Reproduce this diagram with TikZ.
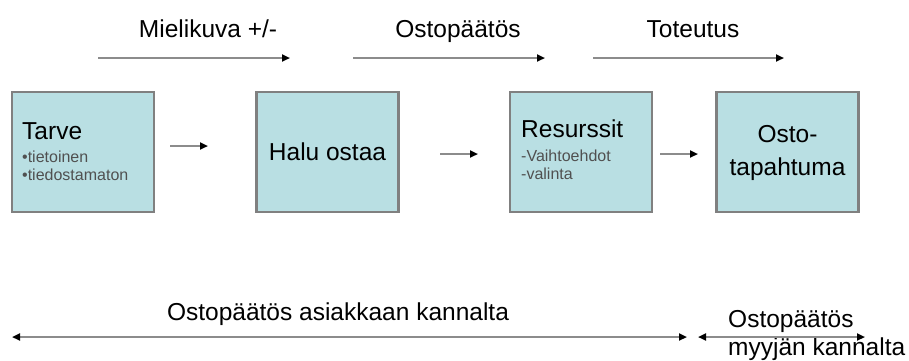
\documentclass[tikz,border=0pt]{standalone}
\usepackage{fontspec}
\setmainfont{Liberation Sans}
\usetikzlibrary{arrows.meta}
\definecolor{boxfill}{HTML}{B9DFE3}
\definecolor{boxline}{HTML}{808080}
\definecolor{linegray}{HTML}{8C8C8C}
\definecolor{subtext}{HTML}{505050}

\begin{document}
\begin{tikzpicture}[x=1pt,y=-1pt,
  stagebox/.style={draw=boxline, line width=2.2pt, fill=boxfill,
    minimum width=142pt, minimum height=120pt, inner sep=0pt},
  conn/.style={draw=linegray, line width=2.3pt, -{Triangle[length=8pt,width=7pt,color=black]}},
  twoway/.style={draw=linegray, line width=2.3pt,
    {Triangle[length=8pt,width=7pt,color=black]}-{Triangle[length=8pt,width=7pt,color=black]}},
  big/.style={font=\fontsize{24.5}{28}\selectfont, inner sep=0pt},
  small/.style={font=\fontsize{16}{18}\selectfont, text=subtext, inner sep=0pt},
]
\useasboundingbox (0,0) rectangle (909,360);

% stage boxes
\node[stagebox] (tarve) at (83,152) {};
\node[stagebox] (halu) at (327.5,152) {};
\node[stagebox] (resurssit) at (581,152) {};
\node[stagebox] (osto) at (787.5,152) {};

% box texts
\node[big, anchor=base west] (tarvet) at (22,139) {Tarve};
\node[small, anchor=base west] (tarve1) at (22,162) {•tietoinen};
\node[small, anchor=base west] (tarve2) at (22,180) {•tiedostamaton};
\node[big] (halut) at (halu.center) {Halu ostaa};
\node[big, anchor=base west] (resurssitt) at (521,137) {Resurssit};
\node[small, anchor=base west] (res1) at (521,161) {-Vaihtoehdot};
\node[small, anchor=base west] (res2) at (521,179) {-valinta};
\node[big, anchor=base] (osto1) at (787.5,142) {Osto-};
\node[big, anchor=base] (osto2) at (787.5,175) {tapahtuma};

% arrows between the boxes
\coordinate (b1s) at (170,146); \coordinate (b1e) at (208,146);
\coordinate (b2s) at (440,154); \coordinate (b2e) at (478,154);
\coordinate (b3s) at (660,154); \coordinate (b3e) at (698,154);
\draw[conn] (b1s) -- (b1e);
\draw[conn] (b2s) -- (b2e);
\draw[conn] (b3s) -- (b3e);

% phase labels and arrows above the boxes
\node[big, anchor=base] (lab1) at (208,37) {Mielikuva +/-};
\node[big, anchor=base] (lab2) at (458,37) {Ostopäätös};
\node[big, anchor=base] (lab3) at (693,37) {Toteutus};
\coordinate (t1s) at (98,58);  \coordinate (t1e) at (290,58);
\coordinate (t2s) at (353,58); \coordinate (t2e) at (545,58);
\coordinate (t3s) at (593,58); \coordinate (t3e) at (784,58);
\draw[conn] (t1s) -- (t1e);
\draw[conn] (t2s) -- (t2e);
\draw[conn] (t3s) -- (t3e);

% customer and seller spans at the bottom
\node[big, anchor=base] (asiakas) at (338,320) {Ostopäätös asiakkaan kannalta};
\node[big, anchor=base west] (myyja1) at (728,327) {Ostopäätös};
\node[big, anchor=base west] (myyja2) at (728,355) {myyjän kannalta};
\coordinate (s1s) at (12,337);  \coordinate (s1e) at (687,337);
\coordinate (s2s) at (698,337); \coordinate (s2e) at (865,337);
\draw[twoway] (s1s) -- (s1e);
\draw[twoway] (s2s) -- (s2e);
\end{tikzpicture}
\end{document}
